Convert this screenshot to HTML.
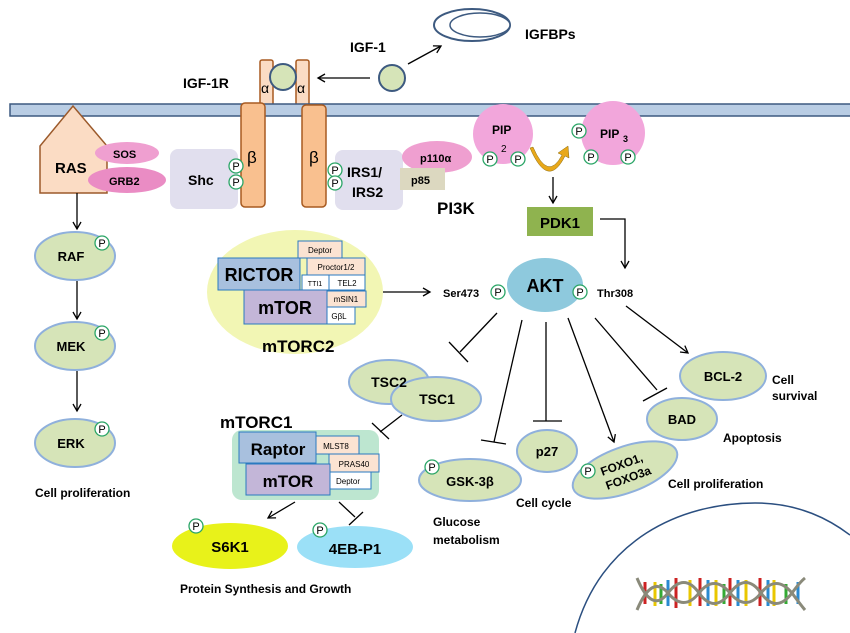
<!DOCTYPE html>
<html><head><meta charset="utf-8"><style>
html,body{margin:0;padding:0;background:#fff;}
svg{display:block;font-family:"Liberation Sans",sans-serif;font-weight:bold;}
</style></head><body>
<svg width="850" height="633" viewBox="0 0 850 633" xmlns="http://www.w3.org/2000/svg">
<defs>
<marker id="ar" markerWidth="10" markerHeight="10" refX="8" refY="5" orient="auto" markerUnits="userSpaceOnUse"><path d="M1,1 L8,5 L1,9" fill="none" stroke="#000" stroke-width="1.3"/></marker>
</defs>
<g stroke="#000" stroke-width="1.3" fill="none">
<!-- IGF arrows -->
<line x1="408" y1="64" x2="441" y2="46" marker-end="url(#ar)"/>
<line x1="370" y1="78" x2="318" y2="78" marker-end="url(#ar)"/>
</g>
<!-- IGFBPs -->
<ellipse cx="472" cy="25" rx="38" ry="16" fill="#fff" stroke="#3d5a80" stroke-width="2"/>
<ellipse cx="480" cy="25" rx="30" ry="12" fill="#fff" stroke="#3d5a80" stroke-width="1.5"/>
<text x="525" y="39" font-size="14">IGFBPs</text>
<text x="350" y="52" font-size="14">IGF-1</text>
<circle cx="392" cy="78" r="13" fill="#d6e4b8" stroke="#3d5a80" stroke-width="2"/>
<text x="183" y="88" font-size="14">IGF-1R</text>
<!-- alpha -->
<rect x="260" y="60" width="13" height="51" rx="2" fill="#fbdcc4" stroke="#a85a20" stroke-width="1.5"/>
<rect x="296" y="60" width="13" height="51" rx="2" fill="#fbdcc4" stroke="#a85a20" stroke-width="1.5"/>
<text x="261" y="93" font-size="14" font-weight="normal">α</text>
<text x="297" y="93" font-size="14" font-weight="normal">α</text>
<circle cx="283" cy="77" r="13" fill="#d6e4b8" stroke="#3d5a80" stroke-width="2"/>
<!-- membrane -->
<rect x="10" y="104" width="845" height="12" fill="#b9cde4" stroke="#3d5a80" stroke-width="1.5"/>
<!-- beta -->
<rect x="241" y="103" width="24" height="104" rx="4" fill="#f9c08f" stroke="#a85a20" stroke-width="1.5"/>
<rect x="302" y="105" width="24" height="102" rx="4" fill="#f9c08f" stroke="#a85a20" stroke-width="1.5"/>
<text x="247" y="163" font-size="17" font-weight="normal">β</text>
<text x="309" y="163" font-size="17" font-weight="normal">β</text>
<!-- RAS -->
<path d="M40,193 L40,146 L73,106 L107,146 L107,193 Z" fill="#fbdcc4" stroke="#9c5a2b" stroke-width="1.5"/>
<ellipse cx="127" cy="153" rx="32" ry="11" fill="#ef9fd0"/>
<ellipse cx="127" cy="180" rx="39" ry="13" fill="#ea8cc4"/>
<text x="55" y="173" font-size="15">RAS</text>
<text x="113" y="158" font-size="11">SOS</text>
<text x="109" y="185" font-size="11">GRB2</text>
<!-- Shc / IRS -->
<rect x="170" y="149" width="68" height="60" rx="8" fill="#e1dfee"/>
<text x="188" y="185" font-size="14">Shc</text>
<rect x="335" y="150" width="68" height="60" rx="8" fill="#e1dfee"/>
<text x="347" y="177" font-size="14">IRS1/</text>
<text x="352" y="197" font-size="14">IRS2</text>
<g fill="#fff" stroke="#2aa566" stroke-width="1.3">
<circle cx="236" cy="166" r="7"/><circle cx="236" cy="182" r="7"/>
<circle cx="335" cy="170" r="7"/><circle cx="335" cy="183" r="7"/>
</g>
<g font-size="11" font-weight="normal" text-anchor="middle">
<text x="236" y="170">P</text><text x="236" y="186">P</text>
<text x="335" y="174">P</text><text x="335" y="187">P</text>
</g>
<!-- PI3K -->
<ellipse cx="437" cy="157" rx="35" ry="16" fill="#ef9fd0"/>
<text x="420" y="162" font-size="11">p110α</text>
<rect x="400" y="168" width="45" height="22" fill="#dcd8c0"/>
<text x="411" y="184" font-size="11">p85</text>
<text x="437" y="214" font-size="17">PI3K</text>
<!-- PIP2 / PIP3 -->
<circle cx="503" cy="134" r="30" fill="#f2a6db"/>
<text x="492" y="134" font-size="12">PIP</text>
<text x="501" y="152" font-size="10" font-weight="normal">2</text>
<circle cx="613" cy="133" r="32" fill="#f2a6db"/>
<text x="600" y="138" font-size="12">PIP</text>
<text x="623" y="142" font-size="9">3</text>
<path d="M533,147 Q548,182 562,155 L558,153 L568,146 L569,158 L565,156 Q548,190 530,148 Z" fill="#e8a81a" stroke="#8a6a10" stroke-width="0.5"/>
<g fill="#fff" stroke="#2aa566" stroke-width="1.3">
<circle cx="490" cy="159" r="7"/><circle cx="518" cy="159" r="7"/>
<circle cx="579" cy="131" r="7"/><circle cx="591" cy="157" r="7"/><circle cx="628" cy="157" r="7"/>
</g>
<g font-size="11" font-weight="normal" text-anchor="middle">
<text x="490" y="163">P</text><text x="518" y="163">P</text>
<text x="579" y="135">P</text><text x="591" y="161">P</text><text x="628" y="161">P</text>
</g>
<!-- PDK1 -->
<line x1="553" y1="177" x2="553" y2="203" stroke="#000" stroke-width="1.3" marker-end="url(#ar)"/>
<rect x="527" y="207" width="66" height="29" fill="#8fb34f"/>
<text x="560" y="228" font-size="15" text-anchor="middle">PDK1</text>
<path d="M600,219 L625,219 L625,268" fill="none" stroke="#000" stroke-width="1.3" marker-end="url(#ar)"/>
<!-- AKT -->
<ellipse cx="545" cy="285" rx="38" ry="27" fill="#8ec9dd"/>
<text x="545" y="292" font-size="18" text-anchor="middle">AKT</text>
<g fill="#fff" stroke="#2aa566" stroke-width="1.3"><circle cx="498" cy="292" r="7"/><circle cx="580" cy="292" r="7"/></g>
<g font-size="11" font-weight="normal" text-anchor="middle"><text x="498" y="296">P</text><text x="580" y="296">P</text></g>
<text x="443" y="297" font-size="11">Ser473</text>
<text x="597" y="297" font-size="11">Thr308</text>
<line x1="383" y1="292" x2="430" y2="292" stroke="#000" stroke-width="1.3" marker-end="url(#ar)"/>
<!-- mTORC2 -->
<ellipse cx="295" cy="292" rx="88" ry="62" fill="#f2f6b4"/>
<rect x="298" y="241" width="44" height="17" fill="#fbe3d2" stroke="#2a7ac0"/>
<text x="320" y="253" font-size="8" font-weight="normal" text-anchor="middle">Deptor</text>
<rect x="307" y="258" width="58" height="17" fill="#fbe3d2" stroke="#2a7ac0"/>
<text x="336" y="270" font-size="8" font-weight="normal" text-anchor="middle">Proctor1/2</text>
<rect x="302" y="275" width="27" height="15" fill="#fff" stroke="#2a7ac0"/>
<text x="315" y="286" font-size="7" font-weight="normal" text-anchor="middle">TTI1</text>
<rect x="329" y="275" width="36" height="15" fill="#fff" stroke="#2a7ac0"/>
<text x="347" y="286" font-size="8" font-weight="normal" text-anchor="middle">TEL2</text>
<rect x="327" y="291" width="39" height="16" fill="#fbe3d2" stroke="#2a7ac0"/>
<text x="346" y="302" font-size="8" font-weight="normal" text-anchor="middle">mSIN1</text>
<rect x="323" y="307" width="32" height="17" fill="#fff" stroke="#2a7ac0"/>
<text x="339" y="319" font-size="8" font-weight="normal" text-anchor="middle">GβL</text>
<rect x="218" y="258" width="82" height="32" fill="#a8c0de" stroke="#2a7ac0"/>
<text x="259" y="281" font-size="18" text-anchor="middle">RICTOR</text>
<rect x="244" y="290" width="83" height="34" fill="#c3b6d8" stroke="#2a7ac0"/>
<text x="285" y="314" font-size="18" text-anchor="middle">mTOR</text>
<text x="262" y="352" font-size="17">mTORC2</text>
<!-- MAPK -->
<g stroke="#000" stroke-width="1.3" fill="none">
<line x1="77" y1="193" x2="77" y2="229" marker-end="url(#ar)"/>
<line x1="77" y1="281" x2="77" y2="319" marker-end="url(#ar)"/>
<line x1="77" y1="371" x2="77" y2="411" marker-end="url(#ar)"/>
</g>
<g fill="#d6e4b8" stroke="#8fb0dc" stroke-width="2">
<ellipse cx="75" cy="256" rx="40" ry="24"/><ellipse cx="75" cy="346" rx="40" ry="24"/><ellipse cx="75" cy="443" rx="40" ry="24"/>
</g>
<g font-size="13" text-anchor="middle"><text x="71" y="261">RAF</text><text x="71" y="351">MEK</text><text x="71" y="448">ERK</text></g>
<g fill="#fff" stroke="#2aa566" stroke-width="1.3"><circle cx="102" cy="243" r="7"/><circle cx="102" cy="333" r="7"/><circle cx="102" cy="429" r="7"/></g>
<g font-size="11" font-weight="normal" text-anchor="middle"><text x="102" y="247">P</text><text x="102" y="337">P</text><text x="102" y="433">P</text></g>
<text x="35" y="497" font-size="12">Cell proliferation</text>
<!-- AKT branches -->
<g stroke="#000" stroke-width="1.3" fill="none">
<line x1="497" y1="313" x2="460" y2="352"/><line x1="449" y1="342" x2="468" y2="362"/>
<line x1="522" y1="320" x2="494" y2="442"/><line x1="481" y1="440" x2="506" y2="444"/>
<line x1="546" y1="322" x2="546" y2="421"/><line x1="533" y1="421" x2="562" y2="421"/>
<line x1="568" y1="318" x2="614" y2="442" marker-end="url(#ar)"/>
<line x1="595" y1="318" x2="657" y2="390"/><line x1="643" y1="401" x2="667" y2="388"/>
<line x1="626" y1="306" x2="688" y2="353" marker-end="url(#ar)"/>
<line x1="402" y1="415" x2="380" y2="432"/><line x1="372" y1="423" x2="389" y2="439"/>
<line x1="295" y1="502" x2="268" y2="518" marker-end="url(#ar)"/>
<line x1="339" y1="502" x2="355" y2="517"/><line x1="349" y1="525" x2="363" y2="512"/>
</g>
<!-- TSC -->
<g fill="#d6e4b8" stroke="#8fb0dc" stroke-width="2">
<ellipse cx="389" cy="382" rx="40" ry="22"/><ellipse cx="436" cy="399" rx="45" ry="22"/>
</g>
<text x="389" y="387" font-size="14" text-anchor="middle">TSC2</text>
<text x="437" y="404" font-size="14" text-anchor="middle">TSC1</text>
<!-- targets -->
<g fill="#d6e4b8" stroke="#8fb0dc" stroke-width="2">
<ellipse cx="470" cy="480" rx="51" ry="21"/>
<ellipse cx="547" cy="451" rx="30" ry="21"/>
<ellipse cx="625" cy="470" rx="55" ry="23" transform="rotate(-20 625 470)"/>
<ellipse cx="682" cy="419" rx="35" ry="21"/>
<ellipse cx="723" cy="376" rx="43" ry="24"/>
</g>
<text x="470" y="486" font-size="13" text-anchor="middle">GSK-3β</text>
<text x="547" y="456" font-size="13" text-anchor="middle">p27</text>
<g transform="rotate(-20 630 470)" font-size="12"><text x="602" y="466">FOXO1,</text><text x="602" y="481">FOXO3a</text></g>
<text x="682" y="424" font-size="13" text-anchor="middle">BAD</text>
<text x="723" y="381" font-size="13" text-anchor="middle">BCL-2</text>
<g fill="#fff" stroke="#2aa566" stroke-width="1.3"><circle cx="432" cy="467" r="7"/><circle cx="588" cy="471" r="7"/></g>
<g font-size="11" font-weight="normal" text-anchor="middle"><text x="432" y="471">P</text><text x="588" y="475">P</text></g>
<g font-size="12">
<text x="772" y="384">Cell</text><text x="772" y="400">survival</text>
<text x="723" y="442">Apoptosis</text>
<text x="668" y="488">Cell proliferation</text>
<text x="516" y="507">Cell cycle</text>
<text x="433" y="526">Glucose</text><text x="433" y="544">metabolism</text>
</g>
<!-- mTORC1 -->
<text x="220" y="428" font-size="17">mTORC1</text>
<rect x="232" y="430" width="147" height="70" rx="10" fill="#bde6d0"/>
<rect x="313" y="436" width="46" height="18" fill="#fbe3d2" stroke="#2a7ac0"/>
<text x="336" y="449" font-size="8" font-weight="normal" text-anchor="middle">MLST8</text>
<rect x="329" y="454" width="50" height="18" fill="#fbe3d2" stroke="#2a7ac0"/>
<text x="354" y="467" font-size="8" font-weight="normal" text-anchor="middle">PRAS40</text>
<rect x="329" y="472" width="42" height="17" fill="#fff" stroke="#2a7ac0"/>
<text x="348" y="484" font-size="8" font-weight="normal" text-anchor="middle">Deptor</text>
<rect x="239" y="432" width="77" height="31" fill="#a8c0de" stroke="#2a7ac0"/>
<text x="278" y="455" font-size="17" text-anchor="middle">Raptor</text>
<rect x="246" y="464" width="84" height="31" fill="#c3b6d8" stroke="#2a7ac0"/>
<text x="288" y="487" font-size="17" text-anchor="middle">mTOR</text>
<ellipse cx="230" cy="546" rx="58" ry="23" fill="#e8f21a"/>
<ellipse cx="355" cy="547" rx="58" ry="21" fill="#9be0f7"/>
<text x="230" y="552" font-size="15" text-anchor="middle">S6K1</text>
<text x="355" y="554" font-size="15" text-anchor="middle">4EB-P1</text>
<g fill="#fff" stroke="#2aa566" stroke-width="1.3"><circle cx="196" cy="526" r="7"/><circle cx="320" cy="530" r="7"/></g>
<g font-size="11" font-weight="normal" text-anchor="middle"><text x="196" y="530">P</text><text x="320" y="534">P</text></g>
<text x="180" y="593" font-size="12">Protein Synthesis and Growth</text>
<!-- nucleus -->
<path d="M575,633 C600,540 680,503 755,503 C800,503 830,520 850,535" fill="none" stroke="#2b4f80" stroke-width="1.5"/>
<!-- DNA -->
<g stroke-width="3">
<g stroke="#c22">
<line x1="645" y1="582" x2="645" y2="604"/><line x1="676" y1="578" x2="676" y2="608"/><line x1="700" y1="578" x2="700" y2="606"/><line x1="730" y1="578" x2="730" y2="606"/><line x1="760" y1="578" x2="760" y2="606"/>
</g>
<g stroke="#e9c700">
<line x1="655" y1="582" x2="655" y2="606"/><line x1="690" y1="580" x2="690" y2="606"/><line x1="716" y1="580" x2="716" y2="606"/><line x1="746" y1="580" x2="746" y2="606"/><line x1="774" y1="580" x2="774" y2="606"/>
</g>
<g stroke="#2a8ad0">
<line x1="668" y1="580" x2="668" y2="606"/><line x1="708" y1="580" x2="708" y2="606"/><line x1="738" y1="580" x2="738" y2="606"/><line x1="768" y1="580" x2="768" y2="606"/><line x1="798" y1="582" x2="798" y2="604"/>
</g>
<g stroke="#3a3"><line x1="661" y1="584" x2="661" y2="604"/><line x1="724" y1="584" x2="724" y2="604"/><line x1="786" y1="584" x2="786" y2="604"/></g>
</g>
<path d="M637,578 Q652,614 668,593 T699,593 T730,593 T761,593 T792,593 Q800,582 805,578" fill="none" stroke="#8a8a7a" stroke-width="3"/>
<path d="M637,610 Q652,574 668,593 T699,593 T730,593 T761,593 T792,593 Q800,604 805,610" fill="none" stroke="#8a8a7a" stroke-width="3"/>
</svg>
</body></html>
